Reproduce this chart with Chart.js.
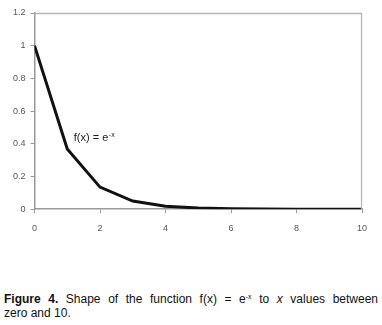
<!DOCTYPE html>
<html><head><meta charset="utf-8">
<script src="https://cdn.jsdelivr.net/npm/chart.js@4"></script>
<style>
html,body{margin:0;padding:0;background:#fff;}
#wrap{position:absolute;left:0;top:0;width:382px;height:244px;}
#cap{position:absolute;left:4px;top:292px;width:374px;font-family:"Liberation Sans",Arial,sans-serif;font-size:12px;line-height:14px;color:#111;}
#cap .l1{text-align:justify;text-align-last:justify;white-space:nowrap;}
</style></head>
<body>
<div id="wrap"><canvas id="c" width="382" height="244"></canvas></div>
<div id="cap"><div class="l1" style="white-space:normal"><b>Figure 4.</b> Shape of the function f(x) = e<sup style="font-size:7px;vertical-align:4px;line-height:0">-x</sup> to <i>x</i> values between</div><div>zero and 10.</div></div>
<script>
const xValues = [0,1,2,3,4,5,6,7,8,9,10];
const fValues = [1,0.368,0.135,0.050,0.018,0.0067,0.0025,0.0009,0.0003,0.0001,0.00005];
const xTicks = [0,2,4,6,8,10];
const yTicks = [0,0.2,0.4,0.6,0.8,1,1.2];

const framePlugin = {
  id:'frame',
  afterDraw(chart){
    const {ctx,chartArea:a} = chart;
    ctx.save();
    ctx.strokeStyle='#b4b4b4';
    ctx.lineWidth=1.3;
    ctx.beginPath();
    ctx.moveTo(a.left,a.top+0.5);
    ctx.lineTo(a.right-0.5,a.top+0.5);
    ctx.lineTo(a.right-0.5,a.bottom);
    ctx.stroke();
    ctx.restore();
  }
};
const labelPlugin = {
  id:'lbl',
  afterDatasetsDraw(chart){
    const {ctx,scales:{x,y}} = chart;
    ctx.save();
    ctx.fillStyle='#222';
    ctx.font='11px "Liberation Sans", Arial, sans-serif';
    ctx.textBaseline='alphabetic';
    const px = x.getPixelForValue(1.2), py = y.getPixelForValue(0.42);
    ctx.fillText('f(x) = e',px,py);
    const w = ctx.measureText('f(x) = e').width;
    ctx.font='7px "Liberation Sans", Arial, sans-serif';
    ctx.fillText('-x',px+w+0.5,py-4);
    ctx.restore();
  }
};

new Chart(document.getElementById('c'),{
  type:'line',
  data:{datasets:[{data:xValues.map((v,i)=>({x:v,y:fValues[i]})),borderColor:'#111',borderWidth:3,pointRadius:0,tension:0,fill:false}]},
  options:{
    responsive:false,animation:false,
    layout:{padding:{left:8,right:20,top:13,bottom:0}},
    plugins:{legend:{display:false},tooltip:{enabled:false}},
    scales:{
      x:{type:'linear',min:0,max:10,
        afterBuildTicks(s){s.ticks=xTicks.map(v=>({value:v}));},
        grid:{color:'transparent',tickColor:'#999',tickLength:4,drawTicks:true},
        border:{color:'#999',width:1.5},
        ticks:{color:'#555',font:{family:'"Liberation Sans", Arial, sans-serif',size:9},padding:10,maxRotation:0}},
      y:{type:'linear',min:0,max:1.2,
        afterBuildTicks(s){s.ticks=yTicks.map(v=>({value:v}));},
        grid:{color:'transparent',tickColor:'#999',tickLength:4},
        border:{color:'#999',width:1.5},
        ticks:{color:'#555',font:{family:'"Liberation Sans", Arial, sans-serif',size:9},padding:5,callback:v=>String(Math.round(v*10)/10)}}
    }
  },
  plugins:[framePlugin,labelPlugin]
});
</script>
</body></html>
